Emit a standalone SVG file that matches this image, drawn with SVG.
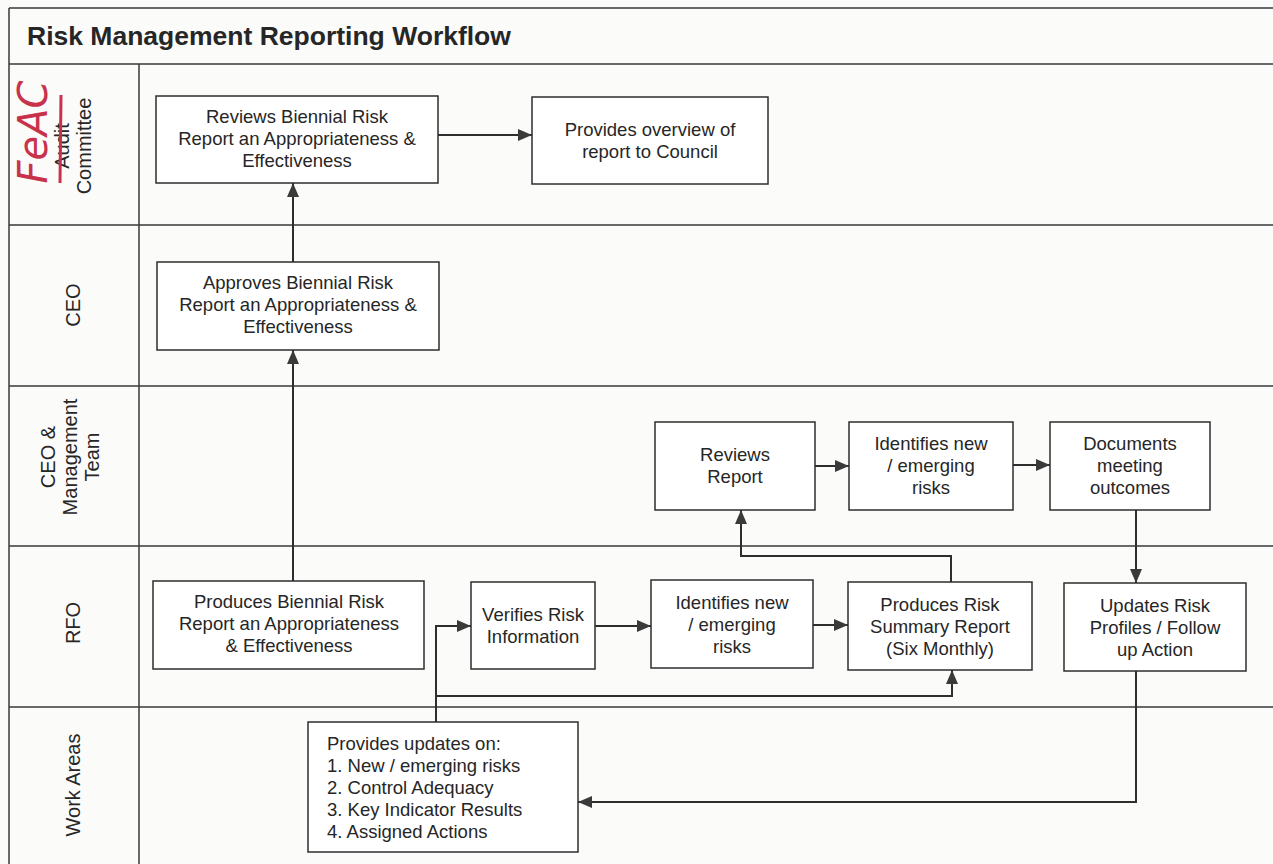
<svg xmlns="http://www.w3.org/2000/svg" width="1273" height="864" viewBox="0 0 1273 864">
<style>
.frame{fill:none;stroke:#3a3a3a;stroke-width:1.5}
.box{fill:#fff;stroke:#2e2e2e;stroke-width:1.5}
.t{font-family:"Liberation Sans",Arial,sans-serif;font-size:18.5px;fill:#262626;text-anchor:middle}
.tl{font-family:"Liberation Sans",Arial,sans-serif;font-size:18.5px;fill:#262626}
.lane{font-family:"Liberation Sans",Arial,sans-serif;font-size:20px;fill:#262626;text-anchor:middle}
.title{font-family:"Liberation Sans",Arial,sans-serif;font-size:26.5px;font-weight:bold;fill:#262626}
.c{fill:none;stroke:#2e2e2e;stroke-width:2}
</style>
<defs>
<marker id="ah" viewBox="0 0 14 12" refX="14" refY="6" markerWidth="14" markerHeight="12" markerUnits="userSpaceOnUse" orient="auto">
<path d="M0,0 L14,6 L0,12 Z" fill="#3a3a3a"/>
</marker>
</defs>
<rect x="0" y="0" width="1273" height="864" fill="#fbfbfa"/>
<g id="frame">
<path class="frame" d="M9,8 H1273 M9,8 V864 M9,64 H1273 M139,64 V864 M9,225 H1273 M9,386 H1273 M9,546 H1273 M9,707 H1273"/>
</g>
<text class="title" x="27" y="45">Risk Management Reporting Workflow</text>
<g id="lanes">
<text class="lane" transform="translate(73,146) rotate(-90)"><tspan x="0" y="-4">Audit</tspan><tspan x="0" y="18">Committee</tspan></text>
<text class="lane" transform="translate(73,305) rotate(-90)"><tspan x="0" y="7">CEO</tspan></text>
<text class="lane" transform="translate(70,457) rotate(-90)"><tspan x="0" y="-15">CEO &amp;</tspan><tspan x="0" y="7">Management</tspan><tspan x="0" y="29">Team</tspan></text>
<text class="lane" transform="translate(73,623) rotate(-90)"><tspan x="0" y="7">RFO</tspan></text>
<text class="lane" transform="translate(73,785) rotate(-90)"><tspan x="0" y="7">Work Areas</tspan></text>
</g>
<g id="handwriting">
<text transform="translate(47,132) rotate(-90)" text-anchor="middle" font-family="'DejaVu Sans',sans-serif" font-style="italic" font-size="40" fill="#c8324a">FeAC</text>
<line x1="61" y1="95" x2="60" y2="183" stroke="#c8324a" stroke-width="3"/>
</g>
<g id="connectors">
<line class="c" x1="438" y1="135" x2="532" y2="135" marker-end="url(#ah)"/>
<line class="c" x1="293" y1="262" x2="293" y2="183" marker-end="url(#ah)"/>
<line class="c" x1="293" y1="581" x2="293" y2="350" marker-end="url(#ah)"/>
<line class="c" x1="815" y1="466" x2="849" y2="466" marker-end="url(#ah)"/>
<line class="c" x1="1013" y1="465" x2="1050" y2="465" marker-end="url(#ah)"/>
<line class="c" x1="1136" y1="510" x2="1136" y2="583" marker-end="url(#ah)"/>
<polyline class="c" points="951,582 951,556 741,556 741,510" marker-end="url(#ah)"/>
<line class="c" x1="595" y1="626" x2="651" y2="626" marker-end="url(#ah)"/>
<line class="c" x1="813" y1="625" x2="848" y2="625" marker-end="url(#ah)"/>
<polyline class="c" points="436,722 436,626 471,626" marker-end="url(#ah)"/>
<polyline class="c" points="436,696 952,696 952,670" marker-end="url(#ah)"/>
<polyline class="c" points="1136,671 1136,802 578,802" marker-end="url(#ah)"/>
</g>
<g id="n1"><rect class="box" x="156" y="96" width="282" height="87"/><text class="t" x="297" y="123">Reviews Biennial Risk<tspan x="297" dy="22">Report an Appropriateness &amp;</tspan><tspan x="297" dy="22">Effectiveness</tspan></text></g>
<g id="n2"><rect class="box" x="532" y="97" width="236" height="87"/><text class="t" x="650" y="136">Provides overview of<tspan x="650" dy="22">report to Council</tspan></text></g>
<g id="n3"><rect class="box" x="157" y="262" width="282" height="88"/><text class="t" x="298" y="289">Approves Biennial Risk<tspan x="298" dy="22">Report an Appropriateness &amp;</tspan><tspan x="298" dy="22">Effectiveness</tspan></text></g>
<g id="n4"><rect class="box" x="655" y="422" width="160" height="88"/><text class="t" x="735" y="461">Reviews<tspan x="735" dy="22">Report</tspan></text></g>
<g id="n5"><rect class="box" x="849" y="422" width="164" height="88"/><text class="t" x="931" y="450">Identifies new<tspan x="931" dy="22">/ emerging</tspan><tspan x="931" dy="22">risks</tspan></text></g>
<g id="n6"><rect class="box" x="1050" y="422" width="160" height="88"/><text class="t" x="1130" y="450">Documents<tspan x="1130" dy="22">meeting</tspan><tspan x="1130" dy="22">outcomes</tspan></text></g>
<g id="n7"><rect class="box" x="153" y="581" width="271" height="88"/><text class="t" x="289" y="608">Produces Biennial Risk<tspan x="289" dy="22">Report an Appropriateness</tspan><tspan x="289" dy="22">&amp; Effectiveness</tspan></text></g>
<g id="n8"><rect class="box" x="471" y="582" width="124" height="87"/><text class="t" x="533" y="621">Verifies Risk<tspan x="533" dy="22">Information</tspan></text></g>
<g id="n9"><rect class="box" x="651" y="580" width="162" height="88"/><text class="t" x="732" y="609">Identifies new<tspan x="732" dy="22">/ emerging</tspan><tspan x="732" dy="22">risks</tspan></text></g>
<g id="n10"><rect class="box" x="848" y="582" width="184" height="88"/><text class="t" x="940" y="611">Produces Risk<tspan x="940" dy="22">Summary Report</tspan><tspan x="940" dy="22">(Six Monthly)</tspan></text></g>
<g id="n11"><rect class="box" x="1064" y="583" width="182" height="88"/><text class="t" x="1155" y="612">Updates Risk<tspan x="1155" dy="22">Profiles / Follow</tspan><tspan x="1155" dy="22">up Action</tspan></text></g>
<g id="n12"><rect class="box" x="308" y="722" width="270" height="130"/><text class="tl" x="327" y="750">Provides updates on:<tspan x="327" dy="22">1. New / emerging risks</tspan><tspan x="327" dy="22">2. Control Adequacy</tspan><tspan x="327" dy="22">3. Key Indicator Results</tspan><tspan x="327" dy="22">4. Assigned Actions</tspan></text></g>
</svg>
